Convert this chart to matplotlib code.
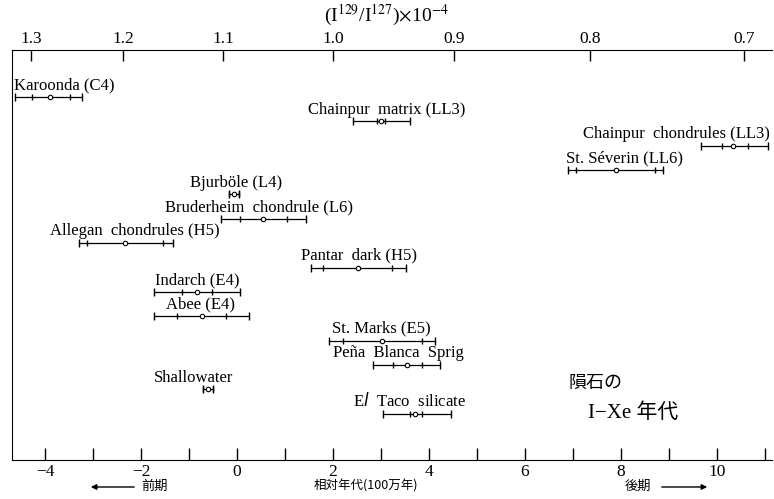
import numpy as np
import matplotlib.pyplot as plt
from matplotlib.ticker import FixedLocator, NullFormatter

# ---------------------------------------------------------------------------
# Data (relative age, 10^6 yr)
# ---------------------------------------------------------------------------

names = [
    "Karoonda (C4)",
    "Chainpur  matrix (LL3)",
    "Chainpur  chondrules (LL3)",
    "St. Séverin (LL6)",
    "Bjurböle (L4)",
    "Bruderheim  chondrule (L6)",
    "Allegan  chondrules (H5)",
    "Pantar  dark (H5)",
    "Indarch (E4)",
    "Abee (E4)",
    "St. Marks (E5)",
    "Peña  Blanca  Sprig",
    "Shallowater",
    "E$\\it{l}$  Taco  silicate",
]
age_lo = [-4.63, 2.42, 9.67, 6.90, -0.17, -0.33, -3.29, 1.54, -1.73, -1.73, 1.92, 2.83, -0.71, 3.04]
age_lo_in = [-4.27, 2.92, 10.10, 7.06, -0.17, 0.06, -3.13, 1.79, -1.15, -1.25, 2.21, 3.25, -0.71, 3.60]
age_mid = [-3.90, 3.00, 10.33, 7.90, -0.06, 0.54, -2.33, 2.52, -0.83, -0.73, 3.02, 3.54, -0.60, 3.71]
age_hi_in = [-3.48, 3.08, 10.65, 8.71, 0.04, 1.04, -1.54, 3.23, -0.52, -0.23, 3.85, 3.85, -0.50, 3.85]
age_hi = [-3.23, 3.60, 11.06, 8.88, 0.04, 1.44, -1.33, 3.52, 0.06, 0.25, 4.13, 4.23, -0.50, 4.46]

# left edge of each label (in age units)
label_x = [-4.65, 1.48, 7.21, 6.85, -0.98, -1.50, -3.90, 1.33, -1.71, -1.48, 1.98, 2.00, -1.73, 2.42]

ratio_ticks = [1.3, 1.2, 1.1, 1.0, 0.9, 0.8, 0.7]
age_major = [-4, -2, 0, 2, 4, 6, 8, 10]
age_minor = [-3, -1, 1, 3, 5, 7, 9, 11]

K = 24.0      # Myr per e-fold of I129/I127
T_REF = 2.0   # age at which ratio == 1.0

SERIF = ["Liberation Serif", "Noto Sans CJK JP"]
CJK = ["Noto Sans CJK JP", "Liberation Serif"]


def age_to_ratio(t):
    return np.exp(-(np.asarray(t, dtype=float) - T_REF) / K)


def ratio_to_age(r):
    r = np.clip(np.asarray(r, dtype=float), 1e-6, None)
    return T_REF - K * np.log(r)


fig = plt.figure(figsize=(7.74, 4.99), dpi=100)
ax = fig.add_axes([12 / 774, 39 / 499, 760 / 774, 410 / 499])

rows = np.arange(len(names))
for i in rows:
    ax.plot([age_lo[i], age_hi[i]], [i, i], color="black", lw=0.9)
    ax.plot([age_lo[i], age_hi[i]], [i, i], ls="none", marker="|",
            ms=6, mew=1.0, color="black")
    ax.plot([age_lo_in[i], age_hi_in[i]], [i, i], ls="none", marker="|",
            ms=4, mew=1.0, color="black")
    ax.plot(age_mid[i], i, ls="none", marker="o", ms=3.2, mfc="white",
            mec="black", mew=0.8)
    ax.text(label_x[i], i - 0.32, names[i], family=SERIF, fontsize=12,
            ha="left", va="baseline")

ax.set_xlim(-4.69, 11.15)
ax.set_ylim(14.9, -1.93)
ax.set_yticks([])

ax.spines["right"].set_visible(False)
ax.spines["top"].set_visible(False)

ax.xaxis.set_major_locator(FixedLocator(age_major))
ax.xaxis.set_minor_locator(FixedLocator(age_minor))
ax.xaxis.set_minor_formatter(NullFormatter())
ax.set_xticklabels([str(v).replace("-", "\u2212") for v in age_major],
                   family=SERIF, fontsize=12.5)
ax.tick_params(axis="x", which="both", direction="in", length=9, width=1, pad=3)

top = ax.secondary_xaxis("top", functions=(age_to_ratio, ratio_to_age))
top.set_xticks(ratio_ticks)
top.set_xticklabels([f"{v:.1f}" for v in ratio_ticks], family=SERIF, fontsize=12.5)
top.tick_params(axis="x", direction="in", length=8, width=1, pad=2)

fig.text(386 / 774, 1 - 15 / 499, r"(I$^{129}$/I$^{127}$)$\times$10$^{-4}$",
         family=SERIF, fontsize=14, ha="center", va="center",
         math_fontfamily="stix")

# Japanese annotations
fig.text(568 / 774, 1 - 383 / 499, "隕石の", family=CJK, fontsize=13,
         ha="left", va="center")
fig.text(588 / 774, 1 - 413 / 499, "I\u2212Xe 年代", family=SERIF, fontsize=15,
         ha="left", va="center")

fig.text(366 / 774, 1 - 486 / 499, "相対年代(100万年)", family=CJK, fontsize=9,
         ha="center", va="center")
fig.text(141 / 774, 1 - 486 / 499, "前期", family=CJK, fontsize=9.5,
         ha="left", va="center")
fig.text(651 / 774, 1 - 486 / 499, "後期", family=CJK, fontsize=9.5,
         ha="right", va="center")
fig.add_artist(plt.Annotation("", xy=(88 / 774, 1 - 487 / 499),
                              xytext=(137 / 774, 1 - 487 / 499),
                              xycoords="figure fraction",
                              arrowprops=dict(arrowstyle="-|>", lw=1.0,
                                              color="black", mutation_scale=8)))
fig.add_artist(plt.Annotation("", xy=(710 / 774, 1 - 487 / 499),
                              xytext=(659 / 774, 1 - 487 / 499),
                              xycoords="figure fraction",
                              arrowprops=dict(arrowstyle="-|>", lw=1.0,
                                              color="black", mutation_scale=8)))

fig.savefig("out.png", dpi=100)
